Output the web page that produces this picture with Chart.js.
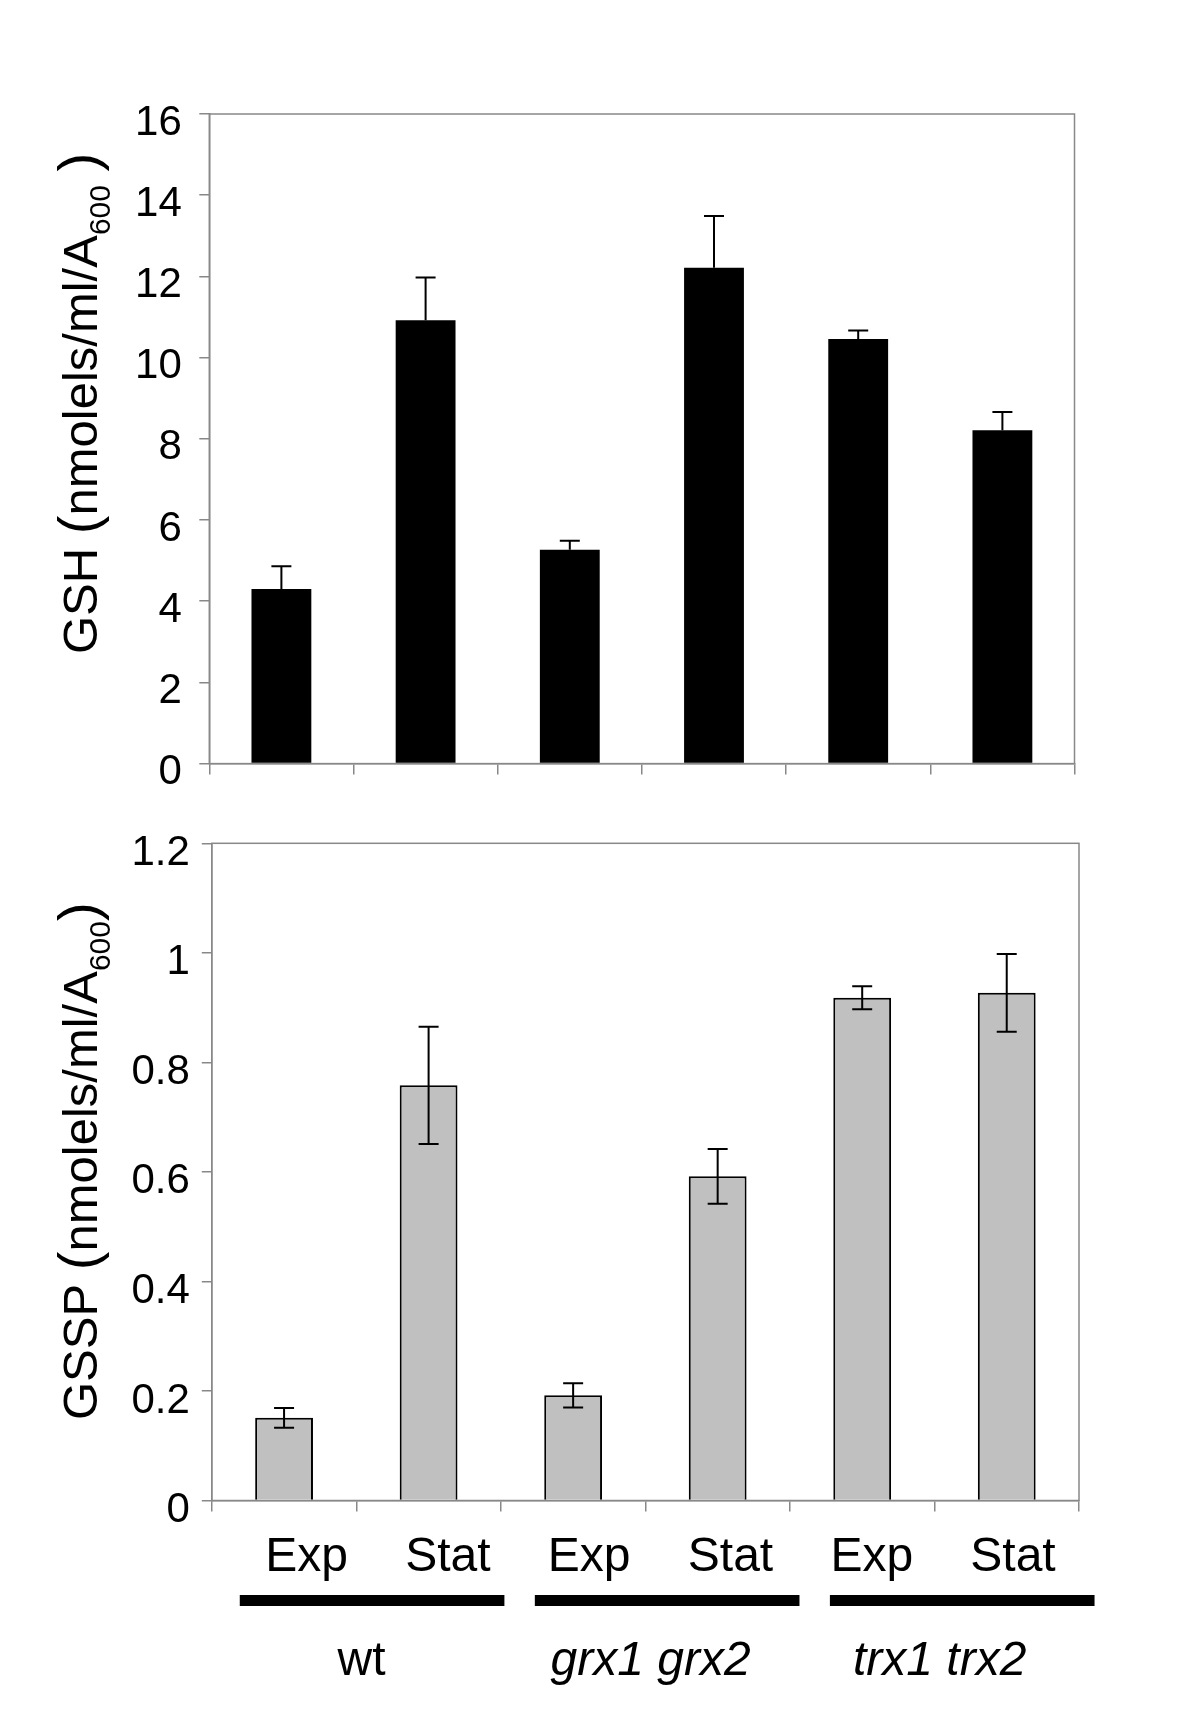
<!DOCTYPE html>
<html>
<head>
<meta charset="utf-8">
<script src="https://cdn.jsdelivr.net/npm/chart.js@4.4.1/dist/chart.umd.min.js"></script>
<style>
  html, body { margin: 0; padding: 0; background: #ffffff; }
  #wrap { position: relative; width: 1200px; height: 1733px; background: #ffffff; }
  #c1 { position: absolute; left: 0; top: 0; }
  #c2 { position: absolute; left: 0; top: 800px; }
</style>
</head>
<body>
<div id="wrap">
  <canvas id="c1" width="1200" height="800"></canvas>
  <canvas id="c2" width="1200" height="933"></canvas>
</div>
<script>
// ---------- data ----------
const categories = ['Exp', 'Stat', 'Exp', 'Stat', 'Exp', 'Stat'];
const groups = ['wt', 'grx1 grx2', 'trx1 trx2'];
const groupItalic = [false, true, true];

const gshValues = [4.30, 10.92, 5.27, 12.21, 10.46, 8.21];
const gshErrors = [0.56, 1.05, 0.22, 1.28, 0.21, 0.45];
const gshTicks = [0, 2, 4, 6, 8, 10, 12, 14, 16];

const gsspValues = [0.151, 0.758, 0.192, 0.592, 0.918, 0.927];
const gsspErrors = [0.018, 0.107, 0.022, 0.050, 0.021, 0.071];
const gsspTicks = [0, 0.2, 0.4, 0.6, 0.8, 1, 1.2];

const gshTitle = [
  { text: 'GSH ', kind: 'main' },
  { text: '(', kind: 'paren' },
  { text: 'nmolels/ml/A', kind: 'main' },
  { text: '600', kind: 'sub' },
  { text: ' ', kind: 'main' },
  { text: ')', kind: 'paren' }
];
const gsspTitle = [
  { text: 'GSSP ', kind: 'main' },
  { text: '(', kind: 'paren' },
  { text: 'nmolels/ml/A', kind: 'main' },
  { text: '600', kind: 'sub' },
  { text: ')', kind: 'paren' }
];

// ---------- styling ----------
const FONT = '"Liberation Sans", Arial, Helvetica, sans-serif';
const AXIS_GREY = '#888888';
Chart.defaults.color = '#000000';
Chart.defaults.font.family = FONT;

function drawYTitle(ctx, parts, x, y) {
  const sizes = { main: 49, paren: 56, sub: 30 };
  const shift = { main: 0, paren: 0, sub: 13 };
  ctx.save();
  ctx.translate(x, y);
  ctx.rotate(-Math.PI / 2);
  ctx.fillStyle = '#000';
  ctx.textBaseline = 'alphabetic';
  ctx.textAlign = 'left';
  let cx = 0;
  for (const p of parts) {
    ctx.font = sizes[p.kind] + 'px ' + FONT;
    ctx.fillText(p.text, cx, shift[p.kind]);
    cx += ctx.measureText(p.text).width;
  }
  ctx.restore();
}

const frameErrTitle = {
  id: 'frameErrTitle',
  beforeDatasetsDraw(chart, args, opts) {
    const a = chart.chartArea, ctx = chart.ctx;
    ctx.save();
    ctx.strokeStyle = AXIS_GREY;
    ctx.lineWidth = 1.5;
    ctx.strokeRect(a.left, a.top, a.right - a.left, a.bottom - a.top);
    ctx.restore();
  },
  afterDatasetsDraw(chart, args, opts) {
    const ctx = chart.ctx;
    const ys = chart.scales.y;
    const meta = chart.getDatasetMeta(0);
    const vals = chart.data.datasets[0].data;
    ctx.save();
    ctx.strokeStyle = '#000';
    ctx.lineWidth = 2;
    meta.data.forEach((bar, i) => {
      const v = vals[i], e = opts.errors[i];
      const yTop = ys.getPixelForValue(v + e);
      const yBot = opts.both ? ys.getPixelForValue(v - e) : ys.getPixelForValue(v);
      ctx.beginPath();
      ctx.moveTo(bar.x, yTop); ctx.lineTo(bar.x, yBot);
      ctx.moveTo(bar.x - 10, yTop); ctx.lineTo(bar.x + 10, yTop);
      if (opts.both) { ctx.moveTo(bar.x - 10, yBot); ctx.lineTo(bar.x + 10, yBot); }
      ctx.stroke();
    });
    ctx.restore();
  },
  afterDraw(chart, args, opts) {
    drawYTitle(chart.ctx, opts.title, opts.titleX, opts.titleY);
  }
};

// category labels (Exp / Stat), group bars and group names below the lower chart
const groupAnnot = {
  id: 'groupAnnot',
  afterDraw(chart) {
    const ctx = chart.ctx, xs = chart.scales.x, a = chart.chartArea;
    const cw = (xs.right - xs.left) / categories.length;
    const px0 = xs.getPixelForValue(0);
    ctx.save();
    ctx.fillStyle = '#000';
    ctx.textAlign = 'center';
    ctx.textBaseline = 'alphabetic';
    ctx.font = '48px ' + FONT;
    categories.forEach((c, i) => {
      const px = xs.getPixelForValue(i);
      ctx.fillText(c, px0 + 22.6 + (px - px0) * 0.9774, a.bottom + 70.2);
    });
    groups.forEach((g, k) => {
      const p0 = xs.getPixelForValue(2 * k);
      const p1 = xs.getPixelForValue(2 * k + 1);
      const x0 = p0 - 0.265 * cw + (k - 1) * 6;
      const x1 = p1 + 0.566 * cw + (k - 1) * 6;
      ctx.fillRect(x0, a.bottom + 94.5, x1 - x0, 11);
      ctx.font = (groupItalic[k] ? 'italic ' : '') + '48px ' + FONT;
      ctx.fillText(g, (p0 + p1) / 2 + 0.036 * cw, a.bottom + 174);
    });
    ctx.restore();
  }
};

function yAxis(ticksArr, width, padding, labelOffset) {
  return {
    min: ticksArr[0],
    max: ticksArr[ticksArr.length - 1],
    afterBuildTicks: s => { s.ticks = ticksArr.map(v => ({ value: v })); },
    afterFit: s => { s.width = width; s.paddingTop = 0; s.paddingBottom = 0; },
    grid: { display: true, drawOnChartArea: false, drawTicks: true, tickLength: 10, color: AXIS_GREY, lineWidth: 1.5 },
    border: { display: true, color: AXIS_GREY, width: 1.5 },
    ticks: { font: { size: 42, family: FONT }, color: '#000', padding: padding, labelOffset: labelOffset,
             callback: v => String(v) }
  };
}

function xAxis(height) {
  return {
    offset: true,
    afterFit: s => { s.height = height; s.paddingLeft = 0; s.paddingRight = 0; },
    grid: { display: true, offset: true, drawOnChartArea: false, drawTicks: true, tickLength: 11, color: AXIS_GREY, lineWidth: 1.5 },
    border: { display: true, color: AXIS_GREY, width: 1.5 },
    ticks: { display: false }
  };
}

// ---------- top chart: GSH ----------
new Chart(document.getElementById('c1'), {
  type: 'bar',
  data: {
    labels: categories,
    datasets: [{
      data: gshValues,
      backgroundColor: '#000000',
      borderColor: '#000000',
      borderWidth: 0,
      barPercentage: 0.415,
      categoryPercentage: 1.0
    }]
  },
  options: {
    responsive: false,
    animation: false,
    events: [],
    layout: { padding: { top: 114, right: 125.5, bottom: 0, left: 0 } },
    plugins: {
      legend: { display: false },
      tooltip: { enabled: false },
      frameErrTitle: { errors: gshErrors, both: false, title: gshTitle, titleX: 97, titleY: 654 }
    },
    scales: {
      x: xAxis(36.4),
      y: yAxis(gshTicks, 209.3, 17.5, 9)
    }
  },
  plugins: [frameErrTitle]
});

// ---------- bottom chart: GSSP ----------
new Chart(document.getElementById('c2'), {
  type: 'bar',
  data: {
    labels: categories,
    datasets: [{
      data: gsspValues,
      backgroundColor: '#c0c0c0',
      borderColor: '#000000',
      borderWidth: 2,
      barPercentage: 0.40,
      categoryPercentage: 1.0
    }]
  },
  options: {
    responsive: false,
    animation: false,
    events: [],
    layout: { padding: { top: 43.3, right: 121, bottom: 0, left: 0 } },
    plugins: {
      legend: { display: false },
      tooltip: { enabled: false },
      frameErrTitle: { errors: gsspErrors, both: true, title: gsspTitle, titleX: 97, titleY: 620 }
    },
    scales: {
      x: xAxis(232.5),
      y: yAxis(gsspTicks, 211.8, 12, 10)
    }
  },
  plugins: [frameErrTitle, groupAnnot]
});
</script>
</body>
</html>
